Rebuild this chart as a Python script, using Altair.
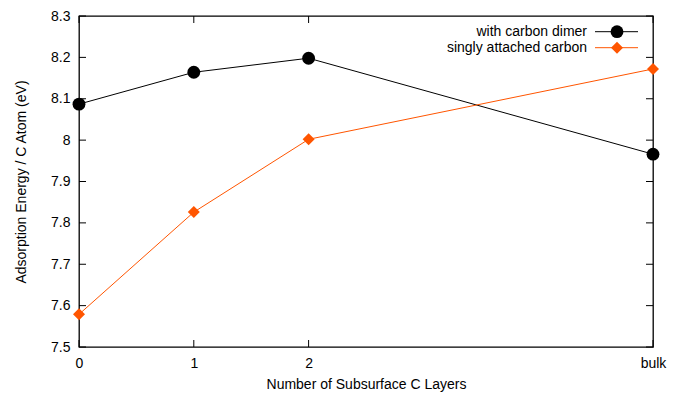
import altair as alt
import pandas as pd

# ---- data ----
x_labels = ["0", "1", "2", "bulk"]
x_pos = [0, 1, 2, 5]
dimer = [8.087, 8.164, 8.198, 7.966]
single = [7.579, 7.826, 8.002, 8.172]
series_names = ["with carbon dimer", "singly attached carbon"]
y_ticks = [7.5, 7.6, 7.7, 7.8, 7.9, 8.0, 8.1, 8.2, 8.3]

W, H = 574, 331
FONT = "Liberation Sans"
ORANGE = "#ff5500"

df_dimer = pd.DataFrame({"x": x_pos, "y": dimer, "lab": x_labels})
df_single = pd.DataFrame({"x": x_pos, "y": single, "lab": x_labels})
df_yt = pd.DataFrame({"y": y_ticks})
df_xt = pd.DataFrame({"x": x_pos})

xs = alt.Scale(domain=[0, 5], nice=False, zero=False)
ys = alt.Scale(domain=[7.5, 8.3], nice=False, zero=False)

label_expr = "datum.value == 5 ? 'bulk' : format(datum.value, 'd')"

x_axis = alt.Axis(values=x_pos, labelExpr=label_expr, title="Number of Subsurface C Layers",
                  grid=False, ticks=False, domain=False, labelFontSize=14, titleFontSize=14,
                  labelFont=FONT, titleFont=FONT, labelColor="black", titleColor="black",
                  labelPadding=9, titlePadding=7, titleFontWeight="normal", labelFlush=False)
y_axis = alt.Axis(values=y_ticks, format="~g", title="Adsorption Energy / C Atom (eV)",
                  grid=False, ticks=False, domain=False, labelFontSize=14, titleFontSize=14,
                  labelFont=FONT, titleFont=FONT, labelColor="black", titleColor="black",
                  labelPadding=9, titlePadding=22, titleFontWeight="normal", labelFlush=False)

X = alt.X("x:Q", scale=xs, axis=x_axis)
Y = alt.Y("y:Q", scale=ys, axis=y_axis)

line_dimer = alt.Chart(df_dimer).mark_line(color="black", strokeWidth=1).encode(x=X, y=Y)
pt_dimer = alt.Chart(df_dimer).mark_point(shape="circle", filled=True, color="black",
                                          size=165, opacity=1).encode(x=X, y=Y)
line_single = alt.Chart(df_single).mark_line(color=ORANGE, strokeWidth=1).encode(x=X, y=Y)
pt_single = alt.Chart(df_single).mark_point(shape="diamond", filled=True, color=ORANGE,
                                            size=144, opacity=1).encode(x=X, y=Y)

# inward ticks (gnuplot style, mirrored)
tl = 7
yt_left = alt.Chart(df_yt).mark_rule(color="black", strokeWidth=1).encode(
    y=Y, x=alt.value(0), x2=alt.value(tl))
yt_right = alt.Chart(df_yt).mark_rule(color="black", strokeWidth=1).encode(
    y=Y, x=alt.value(W - tl), x2=alt.value(W))
xt_bot = alt.Chart(df_xt).mark_rule(color="black", strokeWidth=1).encode(
    x=X, y=alt.value(H - tl), y2=alt.value(H))
xt_top = alt.Chart(df_xt).mark_rule(color="black", strokeWidth=1).encode(
    x=X, y=alt.value(0), y2=alt.value(tl))

# legend (top-right inside)
leg_layers = []
rows = [(series_names[0], "black", "circle", 165), (series_names[1], ORANGE, "diamond", 144)]
for i, (name, col, shp, sz) in enumerate(rows):
    yy = 15.7 + 16 * i
    d = pd.DataFrame({"name": [name]})
    leg_layers.append(alt.Chart(d).mark_text(align="right", baseline="middle", fontSize=14, font=FONT,
                                              color="black").encode(
        x=alt.value(508), y=alt.value(yy), text="name:N"))
    leg_layers.append(alt.Chart(d).mark_rule(color=col, strokeWidth=1).encode(
        x=alt.value(516), x2=alt.value(559), y=alt.value(yy)))
    leg_layers.append(alt.Chart(d).mark_point(shape=shp, filled=True, color=col, size=sz, opacity=1).encode(
        x=alt.value(538), y=alt.value(yy)))

chart = alt.layer(
    line_dimer, line_single, pt_dimer, pt_single,
    yt_left, yt_right, xt_bot, xt_top, *leg_layers
).properties(
    width=W, height=H,
    autosize=alt.AutoSizeParams(type="none"),
    padding={"left": 71, "top": 8, "right": 18, "bottom": 52},
    background="white",
).configure_view(
    stroke="black", strokeWidth=1.3
)

chart.save("out.html", embed_options={"renderer": "svg", "actions": False})
